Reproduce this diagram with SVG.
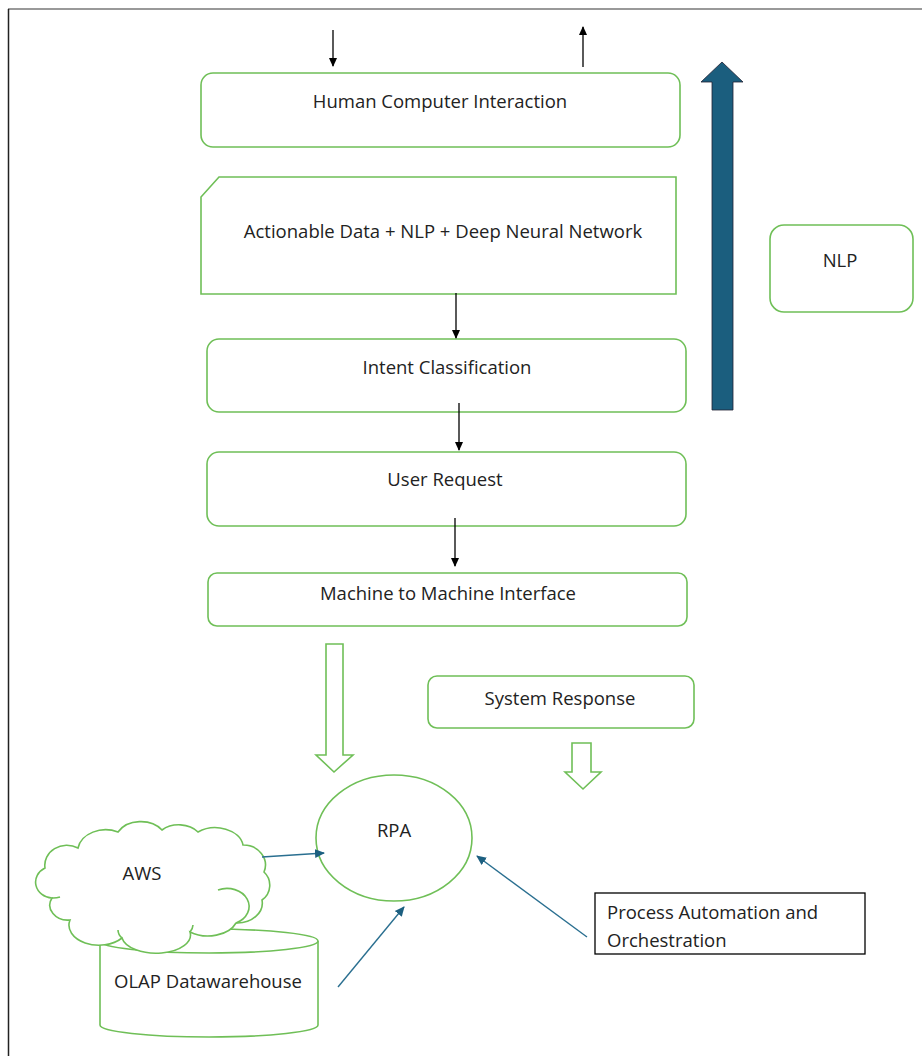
<svg xmlns="http://www.w3.org/2000/svg" width="922" height="1056" viewBox="0 0 922 1056">
<defs>
<style>
.box{fill:#fff;stroke:#6fbf57;stroke-width:1.6}
.t{font-family:"Open Sans","Liberation Sans",Arial,sans-serif;font-size:18.5px;fill:#222}
.blk{stroke:#000;stroke-width:1.3;fill:none}
.blu{stroke:#2a6f90;stroke-width:1.4;fill:none}
</style>
<marker id="ab" markerWidth="10" markerHeight="10" refX="8" refY="5" orient="auto" markerUnits="userSpaceOnUse"><path d="M0,1 L9,5 L0,9 Z" fill="#000"/></marker>
<marker id="ablu" markerWidth="12" markerHeight="12" refX="9" refY="6" orient="auto" markerUnits="userSpaceOnUse"><path d="M0,1.5 L10,6 L0,10.5 Z" fill="#1c5f80"/></marker>
</defs>
<rect width="922" height="1056" fill="#fff"/>
<line x1="8" y1="9" x2="922" y2="9" stroke="#777" stroke-width="1.5"/>
<line x1="8.5" y1="9" x2="8.5" y2="1056" stroke="#222" stroke-width="1.5"/>

<g id="hci"><rect class="box" x="201" y="73" width="479" height="74" rx="12"/><text class="t" x="440" y="108" text-anchor="middle">Human Computer Interaction</text></g>
<g id="adn"><path class="box" d="M219,177 H676 V294 H201 V197 Z"/><text class="t" x="443" y="238" text-anchor="middle">Actionable Data + NLP + Deep Neural Network</text></g>
<g id="intent"><rect class="box" x="207" y="339" width="479" height="73" rx="12"/><text class="t" x="447" y="374" text-anchor="middle">Intent Classification</text></g>
<g id="user"><rect class="box" x="207" y="452" width="479" height="74" rx="12"/><text class="t" x="445" y="486" text-anchor="middle">User Request</text></g>
<g id="m2m"><rect class="box" x="208" y="573" width="479" height="53" rx="9"/><text class="t" x="448" y="600" text-anchor="middle">Machine to Machine Interface</text></g>
<g id="nlp"><rect class="box" x="770" y="225" width="143" height="87" rx="14"/><text class="t" x="840" y="267" text-anchor="middle">NLP</text></g>
<g id="sysresp"><rect class="box" x="428" y="676" width="266" height="52" rx="9"/><text class="t" x="560" y="705" text-anchor="middle">System Response</text></g>
<g id="rpa"><ellipse class="box" cx="394" cy="838" rx="78" ry="63"/><text class="t" x="394" y="837" text-anchor="middle">RPA</text></g>
<g id="olap"><path class="box" d="M100,941 V1025 A109,12 0 0 0 318,1025 V941 A109,12 0 0 0 100,941 Z"/><path class="box" fill="none" d="M100,941 A109,12 0 0 0 318,941"/><text class="t" x="208" y="988" text-anchor="middle">OLAP Datawarehouse</text></g>
<g id="aws"><path class="box" d="M52,898 A18,16 0 0 1 45,868 A22,20 0 0 1 78,848 A28,22 0 0 1 118,832 A26,20 0 0 1 162,830 A24,18 0 0 1 198,832 A28,20 0 0 1 243,845 A22,20 0 0 1 264,872 A18,18 0 0 1 262,900 A25,20 0 0 1 236,923 A30,20 0 0 1 190,932 A34,18 0 0 1 122,938 A30,20 0 0 1 70,920 A18,15 0 0 1 52,898 Z"/>
<path class="box" fill="none" d="M52,898 A18,14 0 0 0 60,897 M236,923 A22,18 0 0 0 218,890 M190,932 A20,14 0 0 0 193,925 M122,938 A22,14 0 0 1 118,930"/><text class="t" x="142" y="880" text-anchor="middle">AWS</text></g>
<g id="pao"><rect x="595" y="893" width="270" height="61" fill="#fff" stroke="#000" stroke-width="1.3"/><text class="t" x="607" y="919">Process Automation and</text><text class="t" x="607" y="947">Orchestration</text></g>

<g id="connectors">
<line class="blk" x1="333" y1="30" x2="333" y2="66" marker-end="url(#ab)"/>
<line class="blk" x1="583" y1="67" x2="583" y2="27" marker-end="url(#ab)"/>
<line class="blk" x1="456" y1="293" x2="456" y2="338" marker-end="url(#ab)"/>
<line class="blk" x1="459" y1="403" x2="459" y2="450" marker-end="url(#ab)"/>
<line class="blk" x1="455" y1="518" x2="455" y2="566" marker-end="url(#ab)"/>
<path d="M712,410 V82 H701 L722,62 L743,82 H733 V410 Z" fill="#1b5e7e" stroke="#223" stroke-width="0.8"/>
<path d="M326,644 H343 V755 H353 L334,772 L316,755 H326 Z" fill="#fff" stroke="#6fbf57" stroke-width="1.6"/>
<path d="M572,743 H591 V772 H601 L583,789 L565,772 H572 Z" fill="#fff" stroke="#6fbf57" stroke-width="1.6"/>
<line class="blu" x1="262" y1="857" x2="324" y2="853" marker-end="url(#ablu)"/>
<line class="blu" x1="338" y1="987" x2="404" y2="907" marker-end="url(#ablu)"/>
<line class="blu" x1="587" y1="937" x2="477" y2="856" marker-end="url(#ablu)"/>
</g>
</svg>
